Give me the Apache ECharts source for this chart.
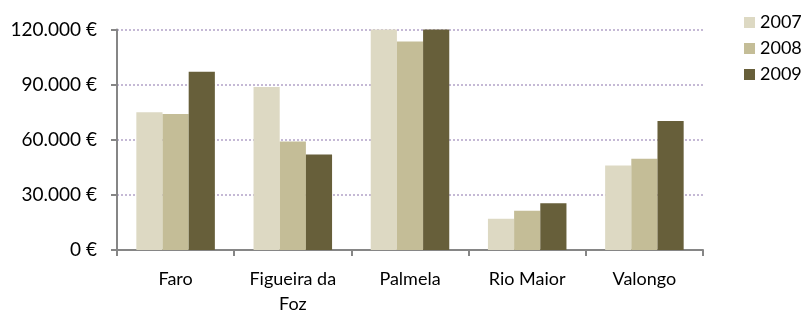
<!DOCTYPE html>
<html>
<head>
<meta charset="utf-8">
<script src="https://cdn.jsdelivr.net/npm/echarts@6/dist/echarts.min.js"></script>
<style>
  html, body { margin: 0; padding: 0; background: #fff; }
  #CajaGrafico { width: 805px; height: 311px; }
</style>
</head>
<body>
<div id="CajaGrafico"></div>
<script>
var categorias = ['Faro', 'Figueira da\nFoz', 'Palmela', 'Rio Maior', 'Valongo'];
var anos = ['2007', '2008', '2009'];
var valores2007 = [75000, 88700, 120000, 17000, 46000];
var valores2008 = [74000, 59000, 113500, 21400, 49700];
var valores2009 = [97000, 52000, 120000, 25400, 70200];
var ticksY = [0, 30000, 60000, 90000, 120000];

document.addEventListener('DOMContentLoaded', function () {
    var ChartDOM = document.getElementById('CajaGrafico');
    var myChart = echarts.init(ChartDOM);
    var fuente = 'Lato';
    var cores = ['#DDD9C3', '#C4BD97', '#675F3A'];
    var series = [valores2007, valores2008, valores2009].map(function (v, i) {
        return {
            name: anos[i],
            type: 'bar',
            data: v,
            barGap: '0%',
            barCategoryGap: '33%',
            itemStyle: { color: cores[i] }
        };
    });

    var option = {
        animation: false,
        textStyle: { fontFamily: fuente },
        grid: { left: 117, right: 102, top: 29.5, bottom: 61, outerBoundsMode: 'none', containLabel: false },
        legend: {
            orient: 'vertical',
            left: 744,
            top: 13,
            padding: 0,
            itemWidth: 11,
            itemHeight: 11,
            itemGap: 7,
            icon: 'rect',
            textStyle: { fontFamily: fuente, fontSize: 18, lineHeight: 19, color: '#000' },
            data: anos
        },
        xAxis: {
            type: 'category',
            data: categorias,
            axisLine: { lineStyle: { color: '#868686', width: 2 } },
            axisTick: { show: true, interval: 0, length: 6, lineStyle: { color: '#868686', width: 2 } },
            axisLabel: { interval: 0, fontFamily: fuente, fontSize: 18, color: '#000', margin: 17, lineHeight: 25 }
        },
        yAxis: {
            type: 'value',
            min: ticksY[0],
            max: ticksY[ticksY.length - 1],
            interval: ticksY[1] - ticksY[0],
            axisLine: { show: true, lineStyle: { color: '#868686', width: 2 } },
            axisTick: { show: true, length: 6, lineStyle: { color: '#868686', width: 2 } },
            splitLine: { lineStyle: { color: '#B3A2C7', type: [2, 2], width: 1.5 } },
            axisLabel: {
                fontFamily: fuente, fontSize: 19, color: '#000', margin: 20,
                formatter: function (v) {
                    return v.toString().replace(/\B(?=(\d{3})+(?!\d))/g, '.') + ' €';
                }
            }
        },
        series: series
    };
    myChart.setOption(option);
    window.addEventListener('resize', function () {
        myChart.resize();
    });
});
</script>
</body>
</html>
